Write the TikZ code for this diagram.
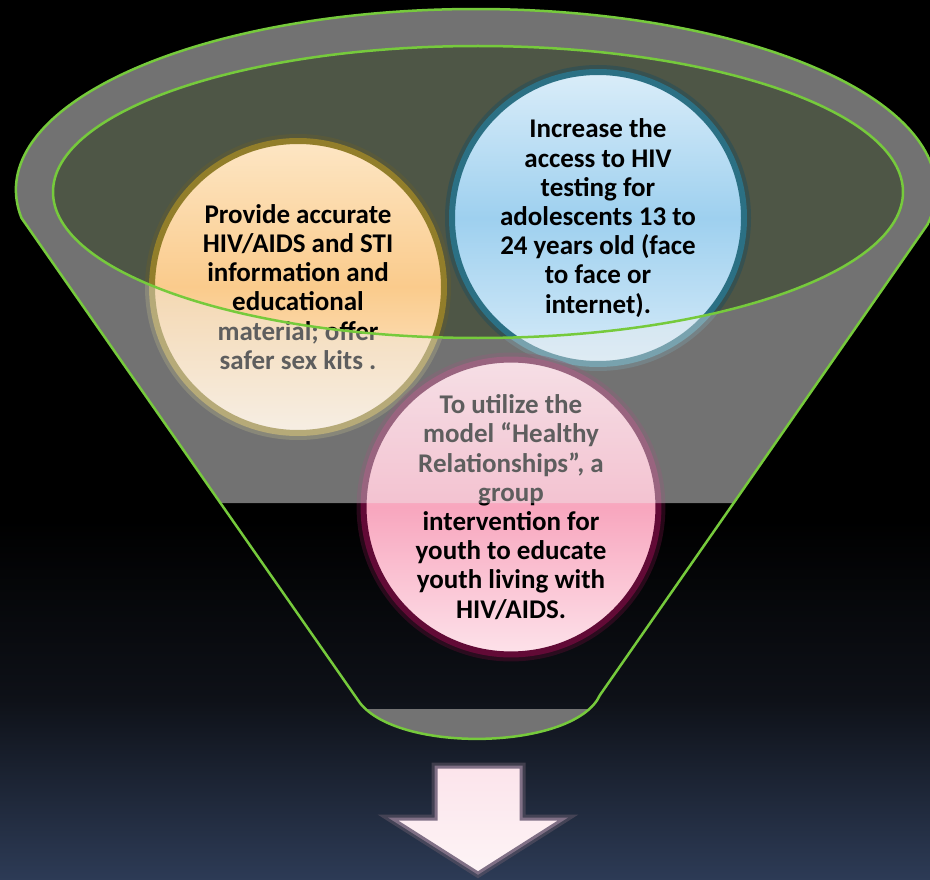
\documentclass[tikz,border=0pt]{standalone}
\usepackage{fontspec}
\setmainfont{Carlito}

\definecolor{bgmid}{RGB}{14,17,24}
\definecolor{bgnavy}{RGB}{45,59,86}
\definecolor{funnelgreen}{RGB}{118,202,60}
\definecolor{ringbase}{gray}{0.13}
\definecolor{hatchgray}{gray}{0.45}
\definecolor{veilgray}{gray}{0.93}
\definecolor{olivegray}{RGB}{78,86,70}
\definecolor{orangerim}{RGB}{146,126,42}
\definecolor{orangeglow}{RGB}{95,92,52}
\definecolor{bluerim}{RGB}{43,112,132}
\definecolor{blueglow}{RGB}{40,78,88}
\definecolor{pinkrim}{RGB}{98,10,54}
\definecolor{pinkglow}{RGB}{66,12,40}
\definecolor{arrowrim}{RGB}{128,112,134}

\tikzset{
  bubble/.style={circle, inner sep=0pt, minimum size=292pt, align=center,
    font=\fontsize{27}{29.2}\selectfont\bfseries, line width=6pt},
  funnelline/.style={draw=funnelgreen, line width=2.5pt, line join=round},
  arrowbox/.style={draw=arrowrim, line width=3pt, line join=miter,
    top color={rgb,255:red,252;green,228;blue,235},
    bottom color={rgb,255:red,253;green,244;blue,246},
    preaction={draw=arrowrim!80!black, line width=9pt, draw opacity=0.5}}
}

\def\funnel{(21.5,218) arc[start angle=171.1, end angle=371, x radius=460, y radius=181]
  -- (600,695) .. controls (575,750) and (400,754) .. (360,703) -- cycle}

\begin{document}
\begin{tikzpicture}[x=1pt,y=-1pt]
\useasboundingbox (0,0) rectangle (930,880);

% background
\fill[black] (0,0) rectangle (930,521);
\shade[top color=black, bottom color=bgmid] (0,520) rectangle (930,701);
\shade[top color=bgmid, bottom color=bgnavy] (0,700) rectangle (930,880);

% funnel body
\begin{scope}
  \clip \funnel;
  \fill[ringbase] (0,0) rectangle (930,503);
  \fill[hatchgray] (0,709) rectangle (930,760);
\end{scope}
\fill[olivegray] (478,192) ellipse[x radius=425, y radius=146];

% the three circles
\node[bubble, draw=orangerim,
  preaction={draw=orangeglow, line width=14pt, draw opacity=0.6},
  top color={rgb,255:red,253;green,230;blue,196},
  bottom color={rgb,255:red,253;green,240;blue,222},
  middle color={rgb,255:red,250;green,203;blue,140}] (provide) at (298,287)
  {Provide accurate\\HIV/AIDS and STI\\information and\\educational\\material; offer\\safer sex kits .};
\node[bubble, draw=bluerim,
  preaction={draw=blueglow, line width=14pt, draw opacity=0.6},
  top color={rgb,255:red,218;green,237;blue,249},
  bottom color={rgb,255:red,214;green,235;blue,248},
  middle color={rgb,255:red,158;green,208;blue,239}] (access) at (598,218)
  {Increase the\\access to HIV\\testing for\\adolescents 13 to\\24 years old (face\\to face or\\internet).};
\node[bubble, draw=pinkrim,
  preaction={draw=pinkglow, line width=14pt, draw opacity=0.6},
  top color={rgb,255:red,252;green,214;blue,225},
  bottom color={rgb,255:red,253;green,226;blue,234},
  middle color={rgb,255:red,248;green,166;blue,190}] (model) at (511,507)
  {To utilize the\\model “Healthy\\Relationships”, a\\group\\intervention for\\youth to educate\\youth living with\\HIV/AIDS.};

% hatched veil over the ring
\begin{scope}
  \clip \funnel;
  \clip (0,0) rectangle (930,503);
  \fill[veilgray, fill opacity=0.4, even odd rule] (0,0) rectangle (930,503)
    (478,192) ellipse[x radius=425, y radius=146];
\end{scope}

% outlines
\draw[funnelline] \funnel;
\draw[funnelline] (478,192) ellipse[x radius=425, y radius=146];

% arrow
\draw[arrowbox] (436,767) -- (521,767) -- (521,819) -- (563,819) -- (478,873)
  -- (393,819) -- (436,819) -- cycle;
\end{tikzpicture}
\end{document}
